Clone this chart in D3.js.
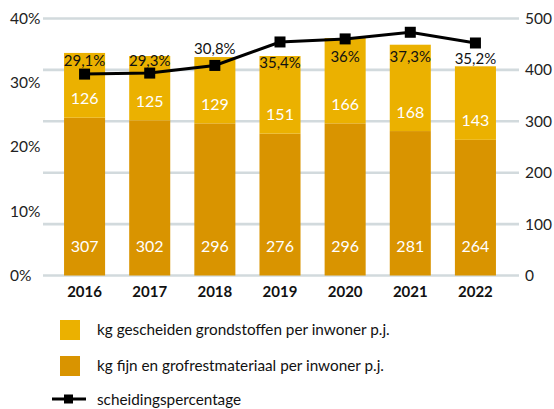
<!DOCTYPE html>
<html lang="nl">
<head>
<meta charset="utf-8">
<title>Scheidingspercentage</title>
<script src="https://cdn.jsdelivr.net/npm/d3@7"></script>
<style>
  body { margin: 0; background: #fff; }
  svg text { font-family: Lato, "Open Sans", sans-serif; }
</style>
</head>
<body>
<div id="chart"></div>
<script>
// data
var years = ["2016", "2017", "2018", "2019", "2020", "2021", "2022"];
var restmateriaal = [307, 302, 296, 276, 296, 281, 264];
var grondstoffen = [126, 125, 129, 151, 166, 168, 143];
var percentage = [29.1, 29.3, 30.8, 35.4, 36, 37.3, 35.2];
var percentLabels = ["29,1%", "29,3%", "30,8%", "35,4%", "36%", "37,3%", "35,2%"];
var leftTicks = [0, 10, 20, 30, 40];
var rightTicks = [0, 100, 200, 300, 400, 500];

// label offsets relative to the line markers (as placed in the original)
var labelDy = [-13, -12, -17, 21, 18, 24, 16];

var width = 554, height = 409;
var colLight = "#ebb100", colDark = "#d99400", gridCol = "#d2dadd";

var svg = d3.select("#chart").append("svg")
    .attr("width", width)
    .attr("height", height);

var x = d3.scaleBand()
    .domain(years)
    .range([52, 508])
    .paddingInner(0.37)
    .paddingOuter(0.185);

var yR = d3.scaleLinear().domain([0, 500]).range([275.5, 18.5]);
var yL = d3.scaleLinear().domain([0, 40]).range([275.5, 18.5]);
// the percentage line uses its own vertical mapping
var yLine = d3.scaleLinear().domain([0, 40]).range([yR(103), yR(500)]);

// gridlines
svg.append("g").selectAll("line")
    .data(rightTicks)
    .enter().append("line")
        .attr("x1", 43)
        .attr("x2", 519)
        .attr("y1", function(d) { return yR(d); })
        .attr("y2", function(d) { return yR(d); })
        .style("stroke", gridCol)
        .style("stroke-width", 2.6);

// left axis labels
svg.append("g").selectAll("text")
    .data(leftTicks)
    .enter().append("text")
        .attr("x", 10)
        .attr("y", function(d) { return yL(d); })
        .attr("dy", "0.35em")
        .style("font-size", "15.5px")
        .style("fill", "#222")
        .text(function(d) { return d + "%"; });

// right axis labels
svg.append("g").selectAll("text")
    .data(rightTicks)
    .enter().append("text")
        .attr("x", 525)
        .attr("y", function(d) { return yR(d); })
        .attr("dy", "0.35em")
        .style("font-size", "15.5px")
        .style("fill", "#222")
        .text(function(d) { return d; });

var rows = years.map(function(y, i) {
    return { year: y, rest: restmateriaal[i], grond: grondstoffen[i], pct: percentage[i], label: percentLabels[i], dy: labelDy[i] };
});

var bars = svg.append("g").selectAll("g")
    .data(rows)
    .enter().append("g");

bars.append("rect")
    .attr("x", function(d) { return x(d.year); })
    .attr("width", x.bandwidth())
    .attr("y", function(d) { return yR(d.rest); })
    .attr("height", function(d) { return yR(0) - yR(d.rest); })
    .style("fill", colDark);

bars.append("rect")
    .attr("x", function(d) { return x(d.year); })
    .attr("width", x.bandwidth())
    .attr("y", function(d) { return yR(d.rest + d.grond); })
    .attr("height", function(d) { return yR(d.rest) - yR(d.rest + d.grond); })
    .style("fill", colLight);

bars.append("text")
    .attr("x", function(d) { return x(d.year) + x.bandwidth() / 2; })
    .attr("y", function(d) { return yR(d.rest) - 19; })
    .attr("dy", "0.35em")
    .attr("text-anchor", "middle")
    .style("font-size", "16px")
    .style("fill", "#fff")
    .text(function(d) { return d.grond; });

bars.append("text")
    .attr("x", function(d) { return x(d.year) + x.bandwidth() / 2; })
    .attr("y", yR(0) - 29)
    .attr("dy", "0.35em")
    .attr("text-anchor", "middle")
    .style("font-size", "16px")
    .style("fill", "#fff")
    .text(function(d) { return d.rest; });

// year labels
bars.append("text")
    .attr("x", function(d) { return x(d.year) + x.bandwidth() / 2; })
    .attr("y", 292)
    .attr("dy", "0.35em")
    .attr("text-anchor", "middle")
    .style("font-size", "15px")
    .style("font-weight", "bold")
    .style("fill", "#111")
    .text(function(d) { return d.year; });

// percentage line
var cx = function(d) { return x(d.year) + x.bandwidth() / 2; };
var line = d3.line()
    .x(cx)
    .y(function(d) { return yLine(d.pct); });

svg.append("path")
    .datum(rows)
    .attr("d", line)
    .style("fill", "none")
    .style("stroke", "#000")
    .style("stroke-width", 3);

svg.append("g").selectAll("rect")
    .data(rows)
    .enter().append("rect")
        .attr("x", function(d) { return cx(d) - 5.5; })
        .attr("y", function(d) { return yLine(d.pct) - 5.5; })
        .attr("width", 11)
        .attr("height", 11)
        .style("fill", "#000");

svg.append("g").selectAll("text")
    .data(rows)
    .enter().append("text")
        .attr("x", cx)
        .attr("y", function(d) { return yLine(d.pct) + d.dy; })
        .attr("dy", "0.35em")
        .attr("text-anchor", "middle")
        .style("font-size", "15px")
        .style("fill", "#111")
        .text(function(d) { return d.label; });

// legend
var legend = svg.append("g");
var legendItems = [
    { name: "kg gescheiden grondstoffen per inwoner p.j.", color: colLight, y: 330 },
    { name: "kg fijn en grofrestmateriaal per inwoner p.j.", color: colDark, y: 366 }
];
legend.selectAll("rect")
    .data(legendItems)
    .enter().append("rect")
        .attr("x", 60)
        .attr("y", function(d) { return d.y - 10; })
        .attr("width", 20)
        .attr("height", 20)
        .style("fill", function(d) { return d.color; });
legend.selectAll("text")
    .data(legendItems.concat([{ name: "scheidingspercentage", y: 400 }]))
    .enter().append("text")
        .attr("x", 97)
        .attr("y", function(d) { return d.y; })
        .attr("dy", "0.35em")
        .style("font-size", "15.3px")
        .style("fill", "#111")
        .text(function(d) { return d.name; });
legend.append("line")
    .attr("x1", 52).attr("x2", 86)
    .attr("y1", 399).attr("y2", 399)
    .style("stroke", "#000")
    .style("stroke-width", 3);
legend.append("rect")
    .attr("x", 64).attr("y", 394.5)
    .attr("width", 9).attr("height", 9)
    .style("fill", "#000");
</script>
</body>
</html>
